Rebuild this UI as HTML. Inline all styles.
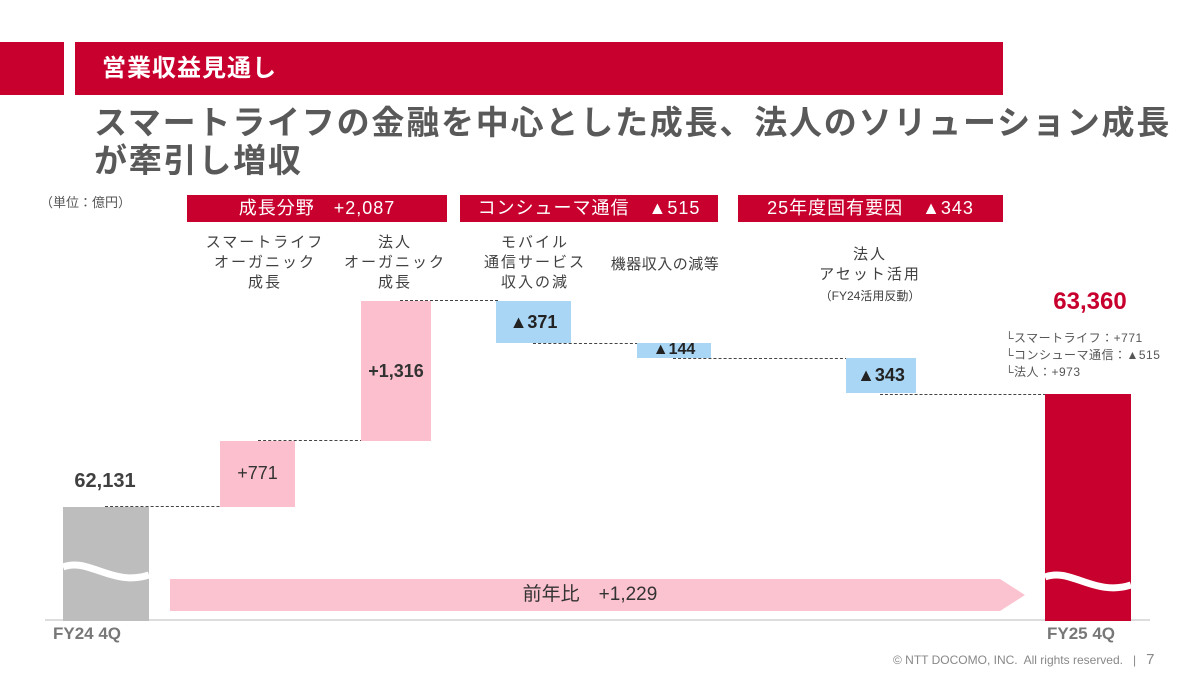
<!DOCTYPE html>
<html><head><meta charset="utf-8"><style>
body{margin:0;width:1200px;height:675px;background:#fff;position:relative;overflow:hidden;font-family:"Liberation Sans","Noto Sans CJK JP",sans-serif;}
.a{position:absolute;}
.red{background:#c8002d;}
.hb{position:absolute;background:#c8002d;color:#fff;font-size:18px;line-height:27px;text-align:center;top:195px;height:27px;letter-spacing:1px}
.lbl{position:absolute;color:#404040;font-size:15px;text-align:center;line-height:20px;letter-spacing:2px}
.pink{position:absolute;background:#fbbfcd;}
.blue{position:absolute;background:#a9d6f5;}
.val{position:absolute;font-size:18px;color:#333;text-align:center;font-weight:bold;}
.dash{position:absolute;border-top:1.5px dashed #444;height:0;}
</style></head><body>
<div class="a red" style="left:0;top:42px;width:64px;height:53px"></div>
<div class="a red" style="left:75px;top:42px;width:928px;height:53px"></div>
<div class="a" style="left:102px;top:54px;color:#fff;font-size:24px;font-weight:bold;line-height:30px;letter-spacing:1px">営業収益見通し</div>
<div class="a" style="left:94px;top:104px;color:#595959;font-size:33px;font-weight:bold;line-height:38px;white-space:nowrap;letter-spacing:1.8px">スマートライフの金融を中心とした成長、法人のソリューション成長<br>が牽引し増収</div>
<div class="a" style="left:40px;top:192px;color:#555;font-size:13px">（単位：億円）</div>
<div class="hb" style="left:187px;width:260px">成長分野　+2,087</div>
<div class="hb" style="left:460px;width:258px">コンシューマ通信　▲515</div>
<div class="hb" style="left:738px;width:265px">25年度固有要因　▲343</div>

<div class="lbl" style="left:185px;top:233px;width:160px">スマートライフ<br>オーガニック<br>成長</div>
<div class="lbl" style="left:320px;top:233px;width:150px">法人<br>オーガニック<br>成長</div>
<div class="lbl" style="left:460px;top:233px;width:150px">モバイル<br>通信サービス<br>収入の減</div>
<div class="lbl" style="left:590px;top:255px;width:150px;letter-spacing:0.5px">機器収入の減等</div>
<div class="lbl" style="left:800px;top:245px;width:140px">法人<br>アセット活用</div>
<div class="lbl" style="left:800px;top:286px;width:140px;font-size:12px;letter-spacing:0">（FY24活用反動）</div>

<div class="a" style="left:45px;top:619px;width:1105px;height:2px;background:#ddd"></div>
<svg class="a" style="left:63px;top:507px" width="86" height="114"><rect width="86" height="114" fill="#bdbdbd"/><path d="M0 60 C25 50 50 80 86 68" stroke="#fff" stroke-width="7" fill="none"/></svg>
<div class="val" style="left:55px;top:470px;width:100px;font-size:20px;color:#404040">62,131</div>
<div class="dash" style="left:105px;top:506px;width:155px"></div>
<div class="pink" style="left:220px;top:441px;width:75px;height:66px"></div>
<div class="val" style="left:220px;top:463px;width:75px;font-weight:normal">+771</div>
<div class="dash" style="left:258px;top:440px;width:105px"></div>
<div class="pink" style="left:361px;top:301px;width:70px;height:140px"></div>
<div class="val" style="left:356px;top:361px;width:80px">+1,316</div>
<div class="dash" style="left:400px;top:300px;width:98px"></div>
<div class="blue" style="left:496px;top:301px;width:75px;height:42px"></div>
<div class="val" style="left:496px;top:312px;width:75px;color:#222">▲371</div>
<div class="dash" style="left:533px;top:343px;width:105px"></div>
<div class="blue" style="left:637px;top:343px;width:74px;height:15px"></div>
<div class="val" style="left:637px;top:341px;width:74px;font-size:16px;color:#222">▲144</div>
<div class="dash" style="left:673px;top:358px;width:175px"></div>
<div class="blue" style="left:846px;top:358px;width:70px;height:35px"></div>
<div class="val" style="left:846px;top:365px;width:70px;color:#222">▲343</div>
<div class="dash" style="left:880px;top:394px;width:166px"></div>
<svg class="a" style="left:1045px;top:394px" width="86" height="227"><rect width="86" height="227" fill="#c8002d"/><path d="M0 183 C25 173 50 203 86 191" stroke="#fff" stroke-width="7" fill="none"/></svg>
<div class="val" style="left:1035px;top:288px;width:110px;font-size:24px;color:#c8002d">63,360</div>
<div class="a" style="left:1005px;top:330px;font-size:12px;color:#555;line-height:17px;white-space:nowrap;letter-spacing:0.5px">└スマートライフ：+771<br>└コンシューマ通信：▲515<br>└法人：+973</div>
<svg class="a" style="left:170px;top:579px" width="856" height="33"><polygon points="0,0 830,0 855,16 830,32 0,32" fill="#fbc3d0"/></svg>
<div class="a" style="left:170px;top:582px;width:840px;text-align:center;font-size:19px;color:#333;line-height:26px">前年比　+1,229</div>
<div class="a" style="left:53px;top:624px;font-size:17px;color:#777;font-weight:bold">FY24 4Q</div>
<div class="a" style="left:1047px;top:624px;font-size:17px;color:#777;font-weight:bold">FY25 4Q</div>
<div class="a" style="left:893px;top:651px;font-size:12px;color:#888;white-space:nowrap">© NTT DOCOMO, INC.&nbsp; All rights reserved.&nbsp;&nbsp; |&nbsp;&nbsp; <span style="font-size:15px">7</span></div>
</body></html>
